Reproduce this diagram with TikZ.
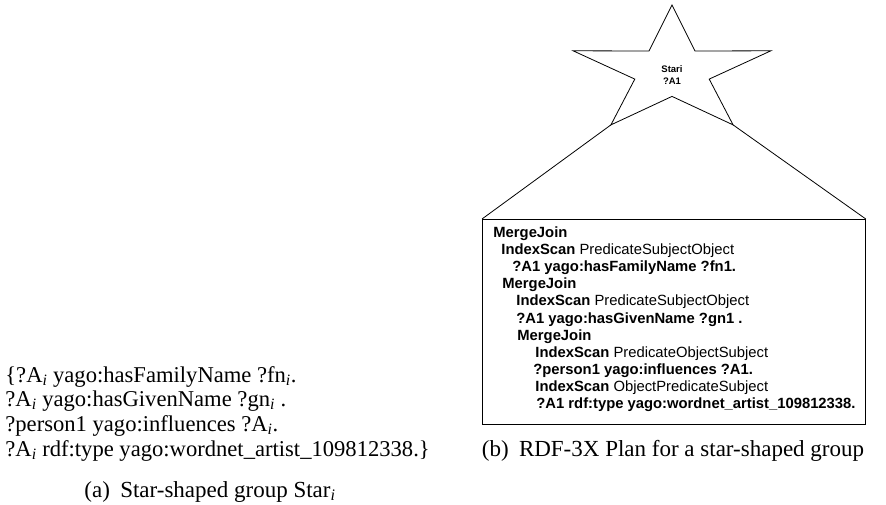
\documentclass[tikz,border=0pt]{standalone}
\usepackage{fontspec}
\setmainfont{Liberation Serif}
\newfontfamily\helv{Liberation Sans}
\newcommand\sbi{\textsubscript{\textit{i}}}
\begin{document}
\begin{tikzpicture}[x=1pt,y=-1pt,line width=0.8pt,
  planline/.style={anchor=base west,inner sep=0pt,font=\helv\fontsize{14.8}{17}\selectfont},
  lefttext/.style={anchor=base west,inner sep=0pt,font=\fontsize{22.6}{24.5}\selectfont},
  captext/.style={anchor=base,inner sep=0pt,font=\fontsize{23}{24.5}\selectfont},
  planbox/.style={draw,rectangle,inner sep=0pt,anchor=north west,minimum width=383pt,minimum height=205pt},
  startext/.style={align=center,inner sep=0pt,font=\helv\bfseries\fontsize{9.5}{12}\selectfont}]
\useasboundingbox (0,0) rectangle (886,505);
% star
\coordinate (s1) at (672,5);
\coordinate (i1) at (695.0,51.0);
\coordinate (s2) at (770.9,50.8);
\coordinate (i2) at (709.2,79.1);
\coordinate (sbr) at (733.1,124.9);
\coordinate (i3) at (672,96.4);
\coordinate (sbl) at (610.9,124.9);
\coordinate (i4) at (634.8,79.1);
\coordinate (s5) at (573.1,50.8);
\coordinate (i5) at (649.0,51.0);
\draw[line join=miter] (s1) -- (i1) -- (s2) -- (i2) -- (sbr) -- (i3) -- (sbl) -- (i4) -- (s5) -- (i5) -- cycle;
\node[startext] (stl) at (672,75) {Stari\\?A1};
% plan box
\node[planbox] (plan) at (482,219) {};
\draw (sbl) -- (plan.north west);
\draw (sbr) -- (plan.north east);
\node[planline] (p1) at (493,237.5) {\bfseries MergeJoin};
\node[planline] (p2) at (501,254.6) {\bfseries IndexScan\mdseries\ PredicateSubjectObject};
\node[planline] (p3) at (512,271.7) {\bfseries ?A1 yago:hasFamilyName ?fn1.};
\node[planline] (p4) at (502,288.8) {\bfseries MergeJoin};
\node[planline] (p5) at (516,305.9) {\bfseries IndexScan\mdseries\ PredicateSubjectObject};
\node[planline] (p6) at (516,323) {\bfseries ?A1 yago:hasGivenName ?gn1 .};
\node[planline] (p7) at (517,340.1) {\bfseries MergeJoin};
\node[planline] (p8) at (535,357.2) {\bfseries IndexScan\mdseries\ PredicateObjectSubject};
\node[planline] (p9) at (533,374.3) {\bfseries ?person1 yago:influences ?A1.};
\node[planline] (p10) at (535,391.4) {\bfseries IndexScan\mdseries\ ObjectPredicateSubject};
\node[planline] (p11) at (536,408.5) {\bfseries ?A1 rdf:type yago:wordnet\_artist\_109812338.};
% left text
\node[lefttext] (t1) at (5,382) {\{?A\sbi{} yago:hasFamilyName ?fn\sbi.};
\node[lefttext] (t2) at (5,406.5) {?A\sbi{} yago:hasGivenName ?gn\sbi{} .};
\node[lefttext] (t3) at (5,431) {?person1 yago:influences ?A\sbi.};
\node[lefttext] (t4) at (5,456) {?A\sbi{} rdf:type yago:wordnet\_artist\_109812338.\}};
% captions
\node[captext] (capa) at (210,497) {(a)\hskip0.45em Star-shaped group Star\sbi};
\node[captext] (capb) at (673,456) {(b)\hskip0.45em RDF-3X Plan for a star-shaped group};
\end{tikzpicture}
\end{document}
